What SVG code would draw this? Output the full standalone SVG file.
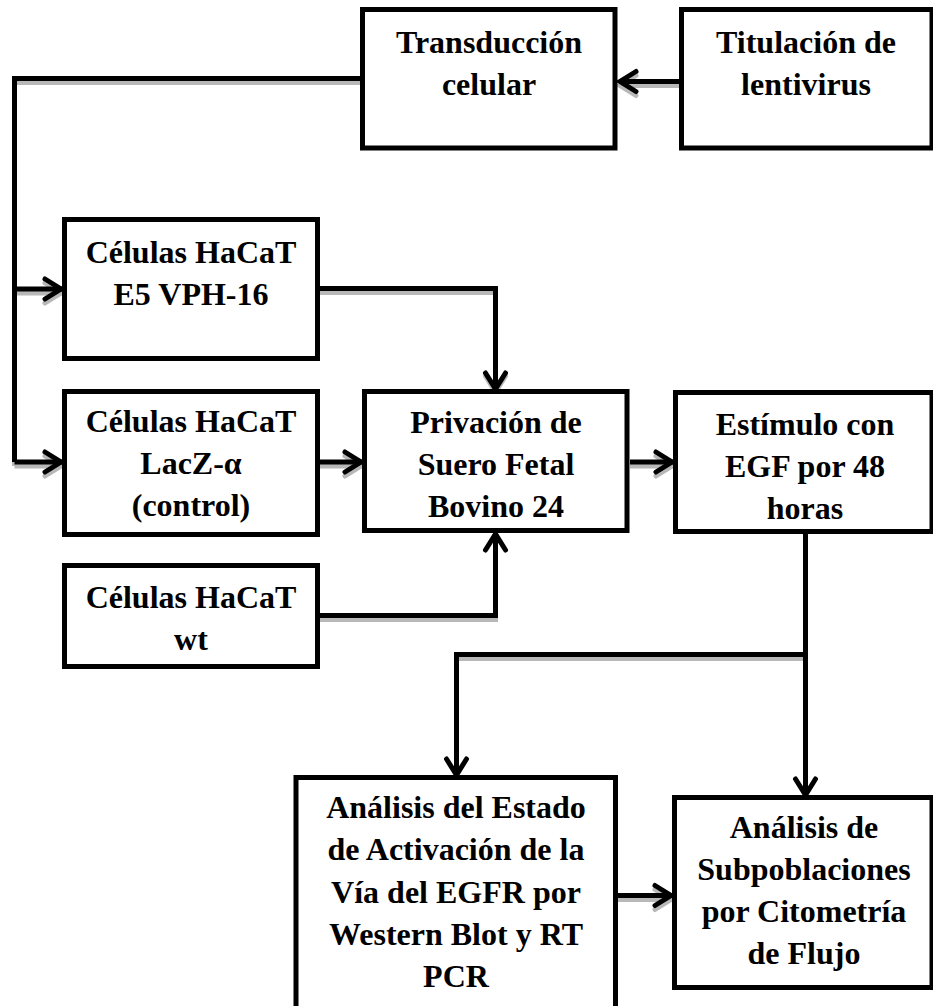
<svg xmlns="http://www.w3.org/2000/svg" width="933" height="1006" viewBox="0 0 933 1006">
<style>
.box{fill:#fff;stroke:#000;stroke-width:5}
.t{font-family:"Liberation Serif","Times New Roman",serif;font-weight:bold;font-size:32px;fill:#000;text-anchor:middle}
.c{fill:none;stroke:#000;stroke-width:5;stroke-linejoin:miter}
.sh{fill:none;stroke:#b8b8b8;stroke-width:5}
</style>
<defs>
<marker id="ah" markerUnits="userSpaceOnUse" viewBox="-22 -14 26 28" refX="0" refY="0" markerWidth="26" markerHeight="28" orient="auto" overflow="visible">
<path d="M -17 -10 L -1 0 L -17 10" fill="none" stroke="#000" stroke-width="5" stroke-linecap="round" stroke-linejoin="miter"/>
</marker>
<marker id="ahs" markerUnits="userSpaceOnUse" viewBox="-22 -14 26 28" refX="0" refY="0" markerWidth="26" markerHeight="28" orient="auto" overflow="visible">
<path d="M -17 -10 L -1 0 L -17 10" fill="none" stroke="#b8b8b8" stroke-width="5" stroke-linecap="round"/>
</marker>
</defs>
<rect width="933" height="1006" fill="#fff"/>

<g id="shadows" transform="translate(0,4)">
<path class="sh" d="M 679 81.5 H 619" marker-end="url(#ahs)"/>
<path class="sh" d="M 360 78.5 H 14.5 V 462"/>
<path class="sh" d="M 14.5 289 H 62" marker-end="url(#ahs)"/>
<path class="sh" d="M 14.5 462 H 62" marker-end="url(#ahs)"/>
<path class="sh" d="M 320 288.5 H 495.5 V 389" marker-end="url(#ahs)"/>
<path class="sh" d="M 320 462 H 362" marker-end="url(#ahs)"/>
<path class="sh" d="M 320 615.5 H 495.5 V 533"/>
<path class="sh" d="M 630 462 H 673" marker-end="url(#ahs)"/>
<path class="sh" d="M 805.5 534 V 795"/>
<path class="sh" d="M 805.5 654.5 H 456.5 V 775"/>
<path class="sh" d="M 618 895.5 H 672" marker-end="url(#ahs)"/>
</g>

<g id="connectors">
<path class="c" d="M 679 81.5 H 619" marker-end="url(#ah)"/>
<path class="c" d="M 360 78.5 H 14.5 V 462"/>
<path class="c" d="M 14.5 289 H 62" marker-end="url(#ah)"/>
<path class="c" d="M 14.5 462 H 62" marker-end="url(#ah)"/>
<path class="c" d="M 320 288.5 H 495.5 V 390" marker-end="url(#ah)"/>
<path class="c" d="M 320 462 H 362" marker-end="url(#ah)"/>
<path class="c" d="M 320 615.5 H 495.5 V 533" marker-end="url(#ah)"/>
<path class="c" d="M 630 462 H 673" marker-end="url(#ah)"/>
<path class="c" d="M 805.5 534 V 796" marker-end="url(#ah)"/>
<path class="c" d="M 805.5 654.5 H 456.5 V 776" marker-end="url(#ah)"/>
<path class="c" d="M 618 895.5 H 672" marker-end="url(#ah)"/>
</g>

<g id="transduccion">
<rect class="box" x="362.5" y="9.5" width="252.5" height="138.5"/>
<text class="t" x="489" y="53">Transducción</text>
<text class="t" x="489" y="95">celular</text>
</g>
<g id="titulacion">
<rect class="box" x="681.5" y="9.5" width="250.5" height="138.5"/>
<text class="t" x="806" y="53">Titulación de</text>
<text class="t" x="806" y="95">lentivirus</text>
</g>
<g id="hacat-e5">
<rect class="box" x="64.5" y="219.5" width="253" height="139"/>
<text class="t" x="191" y="263">Células HaCaT</text>
<text class="t" x="191" y="305">E5 VPH-16</text>
</g>
<g id="hacat-lacz">
<rect class="box" x="64.5" y="391.5" width="253" height="143"/>
<text class="t" x="191" y="432">Células HaCaT</text>
<text class="t" x="191" y="474">LacZ-α</text>
<text class="t" x="191" y="516">(control)</text>
</g>
<g id="privacion">
<rect class="box" x="364.5" y="391.5" width="262.5" height="139"/>
<text class="t" x="496" y="433">Privación de</text>
<text class="t" x="496" y="475">Suero Fetal</text>
<text class="t" x="496" y="517">Bovino 24</text>
</g>
<g id="estimulo">
<rect class="box" x="675.5" y="392.5" width="256.5" height="139"/>
<text class="t" x="805" y="435">Estímulo con</text>
<text class="t" x="805" y="477">EGF por 48</text>
<text class="t" x="805" y="519">horas</text>
</g>
<g id="hacat-wt">
<rect class="box" x="64.5" y="565.5" width="253" height="101"/>
<text class="t" x="191" y="608">Células HaCaT</text>
<text class="t" x="191" y="650">wt</text>
</g>
<g id="analisis-egfr">
<rect class="box" x="296" y="777.5" width="319.5" height="240"/>
<text class="t" x="456" y="818">Análisis del Estado</text>
<text class="t" x="456" y="860">de Activación de la</text>
<text class="t" x="456" y="903">Vía del EGFR por</text>
<text class="t" x="456" y="945">Western Blot y RT</text>
<text class="t" x="456" y="987">PCR</text>
</g>
<g id="analisis-citometria">
<rect class="box" x="674.5" y="797.5" width="257.5" height="190"/>
<text class="t" x="804" y="838">Análisis de</text>
<text class="t" x="804" y="880">Subpoblaciones</text>
<text class="t" x="804" y="922">por Citometría</text>
<text class="t" x="804" y="964">de Flujo</text>
</g>
</svg>
